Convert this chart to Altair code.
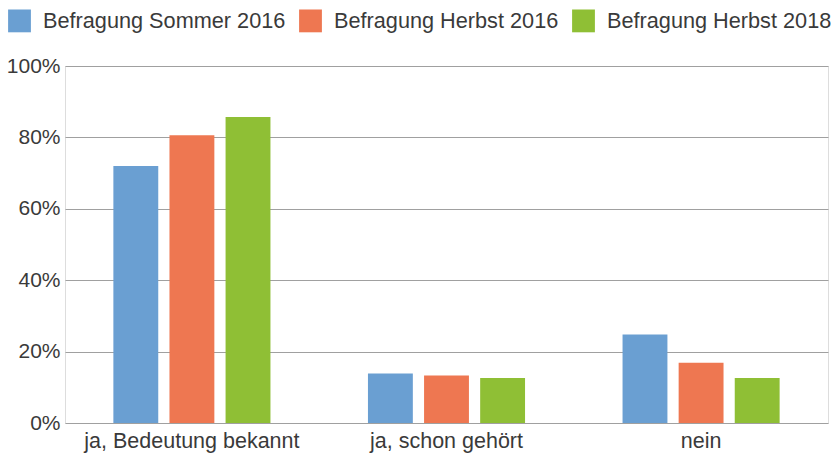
import altair as alt
import pandas as pd

categories = ["ja, Bedeutung bekannt", "ja, schon gehört", "nein"]
series = ["Befragung Sommer 2016", "Befragung Herbst 2016", "Befragung Herbst 2018"]
sommer_2016 = [72.0, 13.9, 24.8]
herbst_2016 = [80.6, 13.3, 16.9]
herbst_2018 = [85.7, 12.6, 12.6]
colors = ["#6a9fd2", "#ee7751", "#8fbf35"]
y_ticks = [0, 20, 40, 60, 80, 100]

rows = []
for s, vals in zip(series, [sommer_2016, herbst_2016, herbst_2018]):
    for c, v in zip(categories, vals):
        rows.append({"Kategorie": c, "Serie": s, "Wert": v})
df = pd.DataFrame(rows)

FONT = "Liberation Sans"
TXT = "#3a3a3a"

chart = alt.Chart(df).mark_bar().encode(
    x=alt.X("Kategorie:N", sort=categories, title=None,
            scale=alt.Scale(paddingInner=0.383, paddingOuter=0.19),
            axis=alt.Axis(labelAngle=0, labelFontSize=21.5, labelFont=FONT,
                          labelColor=TXT, ticks=False, domain=False,
                          labelPadding=7, grid=False, labelLimit=0)),
    xOffset=alt.XOffset("Serie:N", sort=series,
                        scale=alt.Scale(paddingInner=0.2, paddingOuter=0)),
    y=alt.Y("Wert:Q", title=None,
            scale=alt.Scale(domain=[0, 100], nice=False),
            axis=alt.Axis(values=y_ticks, labelExpr="datum.value + '%'",
                          labelFontSize=21, labelFont=FONT, labelColor=TXT,
                          ticks=False, domain=False, labelPadding=5,
                          grid=True, gridColor="#a0a0a0", gridWidth=1.2)),
    color=alt.Color("Serie:N", sort=series,
                    scale=alt.Scale(domain=series, range=colors),
                    legend=alt.Legend(title=None, orient="none",
                                      direction="horizontal",
                                      legendX=-57, legendY=-57,
                                      symbolType="square", symbolSize=520,
                                      symbolStrokeWidth=0, symbolOpacity=1,
                                      labelFontSize=21.7, labelFont=FONT,
                                      labelColor=TXT, labelOffset=12,
                                      labelLimit=0, columnPadding=13)),
).properties(
    width=763, height=357,
    autosize=alt.AutoSizeParams(type="none"),
    padding={"left": 65, "top": 66, "right": 3, "bottom": 32},
).configure_view(stroke=None).configure(background="white")

chart.save("out.html", embed_options={"renderer": "svg", "actions": False})
